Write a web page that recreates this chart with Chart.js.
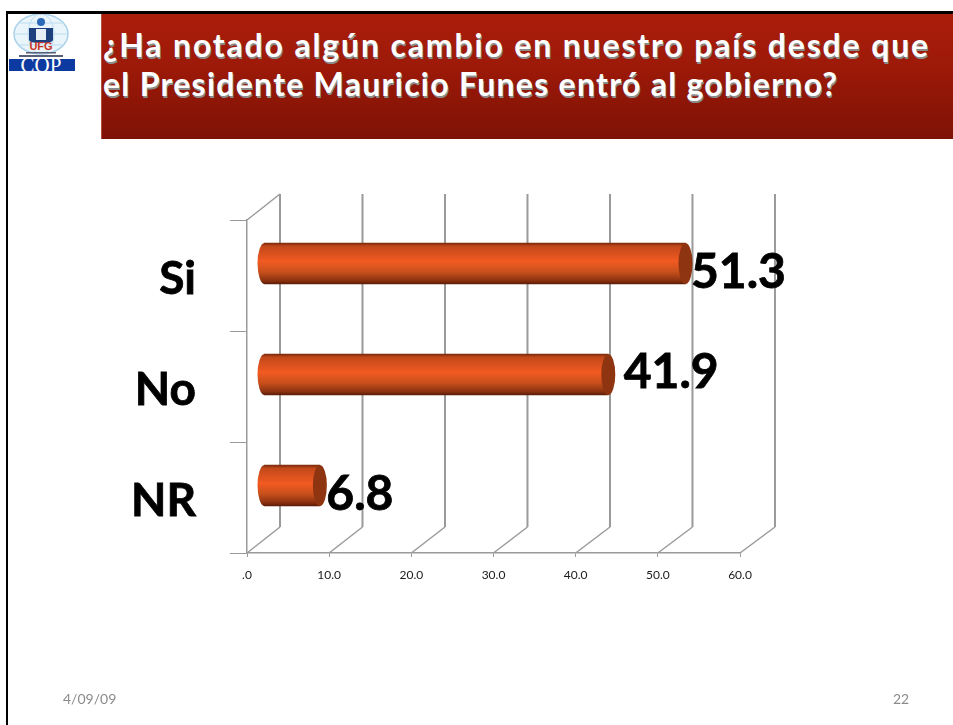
<!DOCTYPE html>
<html>
<head>
<meta charset="utf-8">
<title>Cambio desde que Funes entró al gobierno</title>
<script src="https://cdn.jsdelivr.net/npm/chart.js@4"></script>
<style>
  html, body { margin: 0; padding: 0; background: #fff; overflow: hidden; }
  #slide { position: relative; width: 953px; height: 725px; font-family: Lato, sans-serif; }
  #chart { position: absolute; left: 0; top: 0; }
  #borderTop { position: absolute; left: 6px; top: 11px; width: 947px; height: 3px; background: #000; }
  #borderLeft { position: absolute; left: 6px; top: 11px; width: 2px; height: 714px; background: #000; }
  #header {
    position: absolute; left: 101px; top: 14px; width: 852px; height: 125px;
    background: linear-gradient(#aa1d0a, #a01a09 35%, #7e1205);
    border-left: 1px solid #b5503f; box-sizing: border-box;
  }
  #title {
    position: absolute; left: 103px; top: 25px; margin: 0; white-space: nowrap;
    font-weight: 700; font-size: 32px; line-height: 39px; letter-spacing: 1.84px;
    color: #fff; text-shadow: 1px 2px 0 #8b8b8b;
  }
  #title span { letter-spacing: 1.27px; }
  .foot { position: absolute; top: 690px; font-size: 14px; color: #8b8b8b; }
  #logo { position: absolute; left: 8px; top: 14px; }
</style>
</head>
<body>
<div id="slide">
  <div id="borderTop"></div>
  <div id="borderLeft"></div>
  <div id="header"></div>
  <h1 id="title">¿Ha notado algún cambio en nuestro país desde que<br><span>el Presidente Mauricio Funes entró al gobierno?</span></h1>
  <svg id="logo" width="68" height="58" viewBox="0 0 68 58">
    <ellipse cx="33" cy="20" rx="27" ry="20" fill="#e9f4fb" stroke="#a9d2ea" stroke-width="1.5"/>
    <ellipse cx="33" cy="20" rx="13" ry="20" fill="none" stroke="#bcdcf0"/>
    <path d="M6 20h54M10 9h46M10 31h46" stroke="#bcdcf0" fill="none"/>
    <circle cx="33" cy="8" r="4" fill="#2a6ab8"/>
    <path d="M21 14h24v12q0 3-12 3t-12-3z" fill="#1d3f7d"/>
    <path d="M28 15h10v11h-10z" fill="#e8eef6"/>
    <text x="33" y="36" text-anchor="middle" font-family="Liberation Sans" font-weight="700" font-size="11" fill="#c8341f">UFG</text>
    <path d="M18 38h30v1.500h-30zM11 41h44v2h-44z" fill="#5a5f78"/>
    <rect x="1" y="45" width="66" height="12" fill="#0d3aa0"/>
    <text x="33" y="57.500" text-anchor="middle" font-family="Liberation Serif" font-size="21" fill="#fff">COP</text>
  </svg>
  <canvas id="chart" width="953" height="725"></canvas>
  <div class="foot" style="left:63px">4/09/09</div>
  <div class="foot" style="left:893px">22</div>
</div>

<script>
const categories = ['Si', 'No', 'NR'];
const porcentajes = [51.3, 41.9, 6.8];
const xTicks = [0, 10, 20, 30, 40, 50, 60];

// 3d look of the original: back wall and how deep the bars sit
const depthX = 33, depthY = -26;
const wallStretch = 0.033; // back wall is a hair wider than the floor front
const barDepthX = 17, barDepthY = -12;
const capRadius = 7;
// value labels were hand placed on the slide
const labelNudge = [[-1.5, 9], [8.5, -2], [-0.5, 9]];

const gridColor = '#9a9a9a';

function barGradient(ctx, top, bottom) {
  const g = ctx.createLinearGradient(0, top, 0, bottom);
  g.addColorStop(0, '#7a2a0a');
  g.addColorStop(0.08, '#c2481a');
  g.addColorStop(0.45, '#f25a22');
  g.addColorStop(0.7, '#c9501c');
  g.addColorStop(0.92, '#8a3110');
  g.addColorStop(1, '#5a1d06');
  return g;
}

// back wall lines and floor diagonals
const wallPlugin = {
  id: 'wall',
  beforeDatasetsDraw(chart) {
    const { ctx, scales } = chart;
    const area = chart.chartArea;
    ctx.save();
    ctx.strokeStyle = gridColor;
    xTicks.forEach(v => {
      const x = scales.x.getPixelForValue(v);
      const backX = x + depthX + v * wallStretch;
      ctx.lineWidth = 1.5;
      ctx.beginPath();
      ctx.moveTo(x, area.bottom);
      ctx.lineTo(backX, area.bottom + depthY);
      ctx.stroke();
      ctx.lineWidth = 2;
      ctx.beginPath();
      ctx.moveTo(backX, area.bottom + depthY);
      ctx.lineTo(backX, area.top + depthY);
      ctx.stroke();
    });
    ctx.lineWidth = 1.5;
    ctx.beginPath();
    ctx.moveTo(area.left, area.top);
    ctx.lineTo(area.left + depthX, area.top + depthY);
    ctx.stroke();
    ctx.restore();
  }
};

// moves the bars into the depth and puts the round ends on them
const cylinderPlugin = {
  id: 'cylinder',
  beforeDatasetDraw(chart) {
    const ctx = chart.ctx;
    ctx.save();
    ctx.translate(barDepthX, barDepthY);
    chart.getDatasetMeta(0).data.forEach(bar => {
      const h = bar.height / 2;
      ctx.beginPath();
      ctx.ellipse(bar.base, bar.y, capRadius, h, 0, 0, Math.PI * 2);
      ctx.fillStyle = barGradient(ctx, bar.y - h, bar.y + h);
      ctx.fill();
    });
  },
  afterDatasetDraw(chart) {
    const ctx = chart.ctx;
    chart.getDatasetMeta(0).data.forEach(bar => {
      const h = bar.height / 2;
      ctx.beginPath();
      ctx.ellipse(bar.x, bar.y, capRadius, h, 0, 0, Math.PI * 2);
      ctx.fillStyle = '#8f3410';
      ctx.fill();
    });
    ctx.restore();
  }
};

const valueLabels = {
  id: 'valueLabels',
  afterDatasetsDraw(chart) {
    const ctx = chart.ctx;
    ctx.save();
    ctx.font = 'bold 48px Lato';
    ctx.fillStyle = '#000';
    ctx.strokeStyle = '#000';
    ctx.lineWidth = 0.8;
    ctx.textBaseline = 'middle';
    chart.getDatasetMeta(0).data.forEach((bar, i) => {
      const text = porcentajes[i].toFixed(1);
      const x = bar.x + barDepthX + capRadius + labelNudge[i][0];
      const y = bar.y + barDepthY + labelNudge[i][1];
      ctx.fillText(text, x, y);
      ctx.strokeText(text, x, y);
    });
    // category names sit a little under the tick centre on the slide
    ctx.font = 'bold 46px Lato';
    ctx.textAlign = 'right';
    categories.forEach((name, i) => {
      const y = chart.scales.y.getPixelForTick(i) + 4;
      ctx.fillText(name, 196, y);
      ctx.strokeText(name, 196, y);
    });
    ctx.restore();
  }
};

new Chart(document.getElementById('chart'), {
  type: 'bar',
  data: {
    labels: categories,
    datasets: [{
      data: porcentajes,
      barThickness: 41,
      borderWidth: 0,
      backgroundColor(context) {
        const mid = context.chart.scales.y.getPixelForValue(context.dataIndex);
        if (!Number.isFinite(mid)) return '#e0501d';
        return barGradient(context.chart.ctx, mid - 20.5, mid + 20.5);
      }
    }]
  },
  options: {
    indexAxis: 'y',
    responsive: false,
    animation: false,
    layout: { padding: { left: 0, right: 213, top: 220, bottom: 0 } },
    plugins: { legend: { display: false }, tooltip: { enabled: false } },
    scales: {
      x: {
        min: 0,
        max: 60,
        afterBuildTicks(axis) { axis.ticks = xTicks.map(v => ({ value: v })); },
        afterFit(axis) { axis.height = 172; },
        border: { color: gridColor, width: 1.5 },
        grid: { drawOnChartArea: false, color: gridColor, tickLength: 4 },
        ticks: {
          padding: 11,
          maxRotation: 0,
          color: '#1a1a1a',
          font: { family: 'Lato', size: 12 },
          callback(v) { return v === 0 ? '.0' : v.toFixed(1); }
        }
      },
      y: {
        afterFit(axis) { axis.width = 247; },
        border: { color: gridColor, width: 1.5 },
        grid: { drawOnChartArea: false, color: gridColor, tickLength: 17 },
        ticks: { display: false }
      }
    }
  },
  plugins: [wallPlugin, cylinderPlugin, valueLabels]
});
</script>
</body>
</html>
